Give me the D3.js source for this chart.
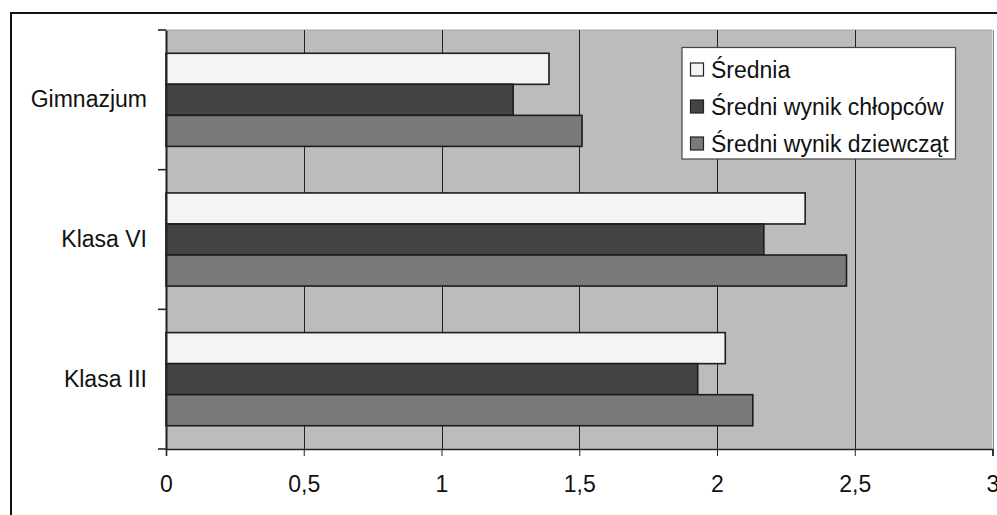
<!DOCTYPE html>
<html>
<head>
<meta charset="utf-8">
<script src="https://cdn.jsdelivr.net/npm/d3@7"></script>
<style>
	body { margin: 0; background: #fff; }
	svg { display: block; font-family: "Liberation Sans", Arial, sans-serif; }
</style>
</head>
<body>
<svg id="chart" width="997" height="515"></svg>
<script>
// chart data
let categories = ['Gimnazjum', 'Klasa VI', 'Klasa III'];
let seriesNames = ['Średnia', 'Średni wynik chłopców', 'Średni wynik dziewcząt'];
let srednia = [1.39, 2.32, 2.03];
let chlopcy = [1.26, 2.17, 1.93];
let dziewczeta = [1.51, 2.47, 2.13];
let xTicks = [0, 0.5, 1, 1.5, 2, 2.5, 3];
let seriesColors = ['#f4f4f4', '#444444', '#7a7a7a'];

let plot = { left: 166, right: 992.5, top: 30, bottom: 449 };
let fontSize = 23;

let svg = d3.select('#chart');

let x = d3.scaleLinear().domain([0, 3]).range([plot.left, plot.right]);
let y0 = d3.scaleBand().domain(categories).range([plot.top, plot.bottom]).padding(0);
let y1 = d3.scaleBand().domain(seriesNames)
	.range([y0.bandwidth() / 6, y0.bandwidth() * 5 / 6]).padding(0);

// outer frame (only top and left edges are in the picture)
svg.append('line').attr('x1', 11).attr('x2', 997).attr('y1', 13).attr('y2', 13)
	.attr('stroke', '#111').attr('stroke-width', 2);
svg.append('line').attr('x1', 11).attr('x2', 11).attr('y1', 12).attr('y2', 515)
	.attr('stroke', '#111').attr('stroke-width', 2);

// plot background
svg.append('rect')
	.attr('x', plot.left).attr('y', plot.top)
	.attr('width', plot.right - plot.left).attr('height', plot.bottom - plot.top)
	.attr('fill', '#bcbcbc');
svg.append('line').attr('x1', plot.left).attr('x2', plot.right).attr('y1', plot.top).attr('y2', plot.top)
	.attr('stroke', '#a8a8a8').attr('stroke-width', 1);

// gridlines
svg.append('g').selectAll('line').data(xTicks.slice(1))
	.enter().append('line')
	.attr('x1', function(d) { return Math.round(x(d)) + 0.5 })
	.attr('x2', function(d) { return Math.round(x(d)) + 0.5 })
	.attr('y1', plot.top).attr('y2', plot.bottom)
	.attr('stroke', function(d) { return d == 3 ? '#8a8a8a' : '#222' })
	.attr('stroke-width', 1);

// bars
let rows = [];
categories.forEach(function(c, i) {
	rows.push({ cat: c, s: 0, value: srednia[i] });
	rows.push({ cat: c, s: 1, value: chlopcy[i] });
	rows.push({ cat: c, s: 2, value: dziewczeta[i] });
});

svg.append('g').selectAll('rect').data(rows)
	.enter().append('rect')
	.attr('x', x(0))
	.attr('y', function(d) { return y0(d.cat) + y1(seriesNames[d.s]) })
	.attr('width', function(d) { return x(d.value) - x(0) })
	.attr('height', y1.bandwidth())
	.attr('fill', function(d) { return seriesColors[d.s] })
	.attr('stroke', '#1c1c1c')
	.attr('stroke-width', 1.6);

// x axis
let xAxis = svg.append('g')
	.attr('transform', 'translate(0,' + plot.bottom + ')')
	.call(d3.axisBottom(x).tickValues(xTicks).tickSize(7).tickPadding(20)
		.tickFormat(function(d) { return String(d).replace('.', ',') }));
xAxis.select('.domain').attr('stroke', '#222').attr('stroke-width', 1.6);
xAxis.selectAll('.tick line').attr('stroke', '#222');
xAxis.selectAll('.tick text').attr('font-size', fontSize).attr('fill', '#111')
	.attr('font-family', '"Liberation Sans", Arial, sans-serif');

// y axis: ticks on the band edges, labels in the middle
let yAxis = svg.append('g')
	.attr('transform', 'translate(' + plot.left + ',0)')
	.call(d3.axisLeft(y0).tickSize(0).tickPadding(19));
yAxis.select('.domain').attr('stroke', '#222').attr('stroke-width', 2);
yAxis.selectAll('.tick text').attr('font-size', fontSize).attr('fill', '#111')
	.attr('font-family', '"Liberation Sans", Arial, sans-serif');

let edges = categories.map(function(c) { return y0(c) }).concat([plot.bottom]);
svg.append('g').selectAll('line').data(edges)
	.enter().append('line')
	.attr('x1', plot.left - 8).attr('x2', plot.left)
	.attr('y1', function(d) { return d }).attr('y2', function(d) { return d })
	.attr('stroke', '#222').attr('stroke-width', 1.6);

// legend
let legend = svg.append('g').attr('transform', 'translate(682,47.5)');
legend.append('rect')
	.attr('width', 273.5).attr('height', 111.5)
	.attr('fill', '#fff').attr('stroke', '#444').attr('stroke-width', 1.2);

let items = legend.selectAll('g').data(seriesNames)
	.enter().append('g')
	.attr('transform', function(d, i) { return 'translate(0,' + (22 + i * 37) + ')' });
items.append('rect')
	.attr('x', 8.5).attr('y', -6.5).attr('width', 13).attr('height', 13)
	.attr('fill', function(d, i) { return seriesColors[i] })
	.attr('stroke', '#222').attr('stroke-width', 1.2);
items.append('text')
	.attr('x', 29).attr('y', 8.5)
	.attr('font-size', fontSize).attr('fill', '#111')
	.text(function(d) { return d });
</script>
</body>
</html>
